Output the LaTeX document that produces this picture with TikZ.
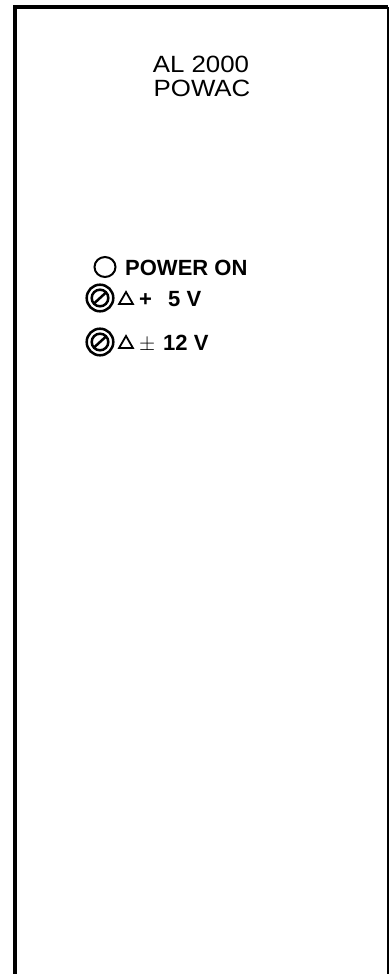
\documentclass[tikz,border=0pt]{standalone}
\usepackage{fontspec}
\setmainfont{Liberation Sans}
\newfontfamily\widefont[FakeStretch=1.1]{Liberation Sans}
\usetikzlibrary{shapes.geometric}

\tikzset{
	lbl/.style={inner sep=0pt,anchor=base west,font=\fontsize{22}{22}\selectfont\bfseries},
	ttl/.style={inner sep=0pt,anchor=base,font=\fontsize{23.5}{23.5}\selectfont\widefont},
	tri/.style={regular polygon,regular polygon sides=3,draw,line width=1.8pt,minimum size=16pt,inner sep=0pt},
	knob/.pic={
		\draw[line width=2.5pt](0,0)circle[radius=13.3];
		\draw[line width=2.5pt](0,0)circle[radius=8.3];
		\draw[line width=2.5pt](-5.8,5.3)--(5.8,-5.3);
	}
}

\begin{document}
\begin{tikzpicture}[x=1pt,y=-1pt]
			\useasboundingbox(0,0)rectangle(390,974);
			% panel outline, open at the bottom
			\coordinate(bl)at(15,974);
			\coordinate(tl)at(15,7);
			\coordinate(tr)at(388,7);
			\coordinate(br)at(388,974);
			\draw[line width=4.5pt](bl)--(tl)--(tr);
			\draw[line width=1.8pt](tr)--(br);
			% title
			\node[ttl](name)at(201,72){AL 2000};
			\node[ttl](type)at(202,96){POWAC};
			% lamp
			\draw[line width=2pt](105,267)circle[x radius=10.5,y radius=10];
			\node[lbl](pwr)at(125,275){POWER ON};
			% +5 V
			\pic(k5)at(100,298){knob};
			\node[tri](t5)at(126,300){};
			\node[lbl](p5)at(139,306){+};
			\node[lbl](v5)at(168,306){5 V};
			% +-12 V
			\pic(k12)at(100,342){knob};
			\node[tri](t12)at(126,344){};
			\node[lbl,font=\fontsize{22}{22}\selectfont](p12)at(139,350){$\pm$};
			\node[lbl](v12)at(163,350){12 V};
		\end{tikzpicture}
\end{document}
